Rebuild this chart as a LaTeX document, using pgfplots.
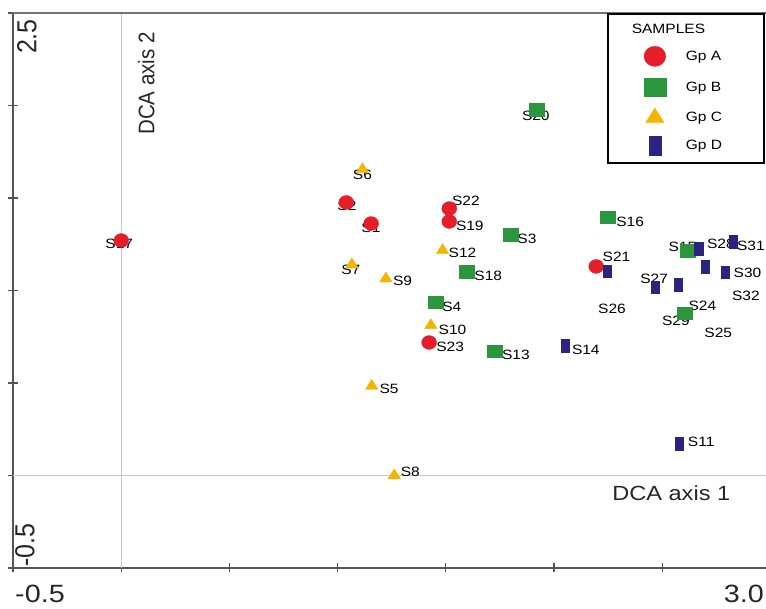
\documentclass[border=0pt]{standalone}
\usepackage{graphicx}
\usepackage{fontspec}
\setmainfont{Liberation Sans}
\usepackage{pgfplots}
\pgfplotsset{compat=1.18}

\definecolor{cA}{RGB}{230,30,42}
\definecolor{cB}{RGB}{44,150,62}
\definecolor{cC}{RGB}{245,180,0}
\definecolor{cD}{RGB}{42,36,128}
\definecolor{axgray}{RGB}{85,85,85}

% sample scores on the first two DCA axes
\pgfplotstableread{
x      y
0.000  1.270
1.040  1.476
1.155  1.362
1.516  1.443
1.516  1.373
1.423  0.719
2.195  1.130
}\grpA
\pgfplotstableread{
x      y
1.918  1.978
1.798  1.303
1.597  1.103
1.451  0.937
1.727  0.672
2.249  1.396
2.617  1.216
2.606  0.877
}\grpB
\pgfplotstableread{
x      y
1.115  1.655
1.066  1.140
1.223  1.064
1.485  1.217
1.431  0.812
1.158  0.484
1.262  0.000
}\grpC
\pgfplotstableread{
x      y
2.244  1.104
2.466  1.018
2.575  1.031
2.668  1.225
2.697  1.130
2.790  1.099
2.828  1.266
2.579  0.171
2.052  0.703
}\grpD

\newcommand{\wide}[1]{\scalebox{1.15}[1]{#1}}
\newcommand{\tall}[1]{\rotatebox{90}{\scalebox{1}[1.1]{#1}}}

\tikzset{
  lab/.style={font=\fontsize{13.5}{13.5}\selectfont, inner sep=0pt, anchor=center, text=black},
  big/.style={font=\fontsize{25}{25}\selectfont, inner sep=0pt, text=black!85},
  axname/.style={font=\fontsize{20.5}{20.5}\selectfont, inner sep=0pt, text=black!85},
}

\begin{document}
\begin{tikzpicture}
\begin{axis}[
  scale only axis,
  width=757.4pt, height=555pt,
  xmin=-0.5, xmax=3.0, ymin=-0.5, ymax=2.5,
  axis x line=bottom, axis y line=left,
  axis line style={-, line width=1.6pt, color=axgray},
  xtick={-0.5,0,0.5,1,1.5,2,2.5,3},
  ytick={-0.5,0,0.5,1,1.5,2,2.5},
  xticklabel=\empty, yticklabel=\empty,
  tick align=center, major tick length=9pt,
  tick style={line width=1.3pt, color=axgray},
  clip=false,
  legend style={
    at={(axis cs:2.246,2.5)}, anchor=north west,
    draw=black, line width=1.6pt, fill=white,
    font=\fontsize{13.5}{13.5}\selectfont,
    inner xsep=36pt, inner ysep=8pt,
    row sep=11.5pt, column sep=18pt,
    cells={anchor=west},
  },
  legend image post style={line width=0.3pt, /tikz/every mark/.append style={scale=1.45}},
]
% reference lines through the origin and the top border
\draw[black!22, line width=0.9pt] (axis cs:0,-0.5) -- (axis cs:0,2.5);
\draw[black!22, line width=0.9pt] (axis cs:-0.5,0) -- (axis cs:3,0);
\draw[black!55, line width=1.2pt] (axis cs:-0.5,2.5) -- (axis cs:3,2.5);

\addlegendimage{empty legend}
\addlegendentry{\hspace{-54pt}\raisebox{-2pt}{\wide{SAMPLES}}}

\addplot[cA, only marks, mark=*, mark size=7.5pt, line width=0.3pt,
  mark options={fill=cA, draw=cA, yscale=0.93}] table {\grpA};
\addlegendentry{\makebox[40pt][l]{\wide{Gp A}}}
\addplot[cB, only marks, mark=square*, mark size=7.5pt, line width=0.3pt,
  mark options={fill=cB, draw=cB, yscale=0.85}] table {\grpB};
\addlegendentry{\makebox[40pt][l]{\wide{Gp B}}}
\addplot[cC, only marks, mark=triangle*, mark size=7.3pt, line width=0.3pt,
  mark options={fill=cC, draw=cC, yscale=0.92}] table {\grpC};
\addlegendentry{\makebox[40pt][l]{\wide{Gp C}}}
\addplot[cD, only marks, mark=square*, mark size=7.5pt, line width=0.3pt,
  mark options={fill=cD, draw=cD, xscale=0.55, yscale=0.85}] table {\grpD};
\addlegendentry{\makebox[40pt][l]{\wide{Gp D}}}

% sample names
\node[lab] at (axis cs:-0.009,1.254) {\wide{S17}};
\node[lab] at (axis cs:1.043,1.456) {\wide{S2}};
\node[lab] at (axis cs:1.154,1.337) {\wide{S1}};
\node[lab] at (axis cs:1.115,1.627) {\wide{S6}};
\node[lab] at (axis cs:1.061,1.112) {\wide{S7}};
\node[lab] at (axis cs:1.300,1.050) {\wide{S9}};
\node[lab] at (axis cs:1.593,1.483) {\wide{S22}};
\node[lab] at (axis cs:1.611,1.351) {\wide{S19}};
\node[lab] at (axis cs:1.577,1.204) {\wide{S12}};
\node[lab] at (axis cs:1.696,1.081) {\wide{S18}};
\node[lab] at (axis cs:1.875,1.279) {\wide{S3}};
\node[lab] at (axis cs:1.916,1.946) {\wide{S20}};
\node[lab] at (axis cs:1.528,0.910) {\wide{S4}};
\node[lab] at (axis cs:1.531,0.788) {\wide{S10}};
\node[lab] at (axis cs:1.520,0.693) {\wide{S23}};
\node[lab] at (axis cs:1.824,0.654) {\wide{S13}};
\node[lab] at (axis cs:2.147,0.679) {\wide{S14}};
\node[lab] at (axis cs:1.238,0.468) {\wide{S5}};
\node[lab] at (axis cs:1.336,0.018) {\wide{S8}};
\node[lab] at (axis cs:2.680,0.180) {\wide{S11}};
\node[lab] at (axis cs:2.352,1.373) {\wide{S16}};
\node[lab] at (axis cs:2.289,1.184) {\wide{S21}};
\node[lab] at (axis cs:2.594,1.238) {\wide{S15}};
\node[lab] at (axis cs:2.771,1.253) {\wide{S28}};
\node[lab] at (axis cs:2.910,1.243) {\wide{S31}};
\node[lab] at (axis cs:2.894,1.094) {\wide{S30}};
\node[lab] at (axis cs:2.887,0.973) {\wide{S32}};
\node[lab] at (axis cs:2.463,1.063) {\wide{S27}};
\node[lab] at (axis cs:2.268,0.901) {\wide{S26}};
\node[lab] at (axis cs:2.686,0.919) {\wide{S24}};
\node[lab] at (axis cs:2.563,0.838) {\wide{S29}};
\node[lab] at (axis cs:2.759,0.769) {\wide{S25}};

% axis names
\node[axname] at (axis cs:0.1155,2.119) {\tall{DCA axis 2}};
\node[axname] at (axis cs:2.542,-0.097) {\wide{DCA axis 1}};

% end values of the axes
\node[big, anchor=north west] at ([xshift=2pt, yshift=-17pt]rel axis cs:0,0) {\wide{-0.5}};
\node[big, anchor=north east] at ([xshift=751pt, yshift=-17pt]rel axis cs:0,0) {\wide{3.0}};
\node[big, anchor=north west] at ([xshift=4pt, yshift=-6pt]rel axis cs:0,1) {\tall{2.5}};
\node[big, anchor=south west] at ([xshift=2pt, yshift=1pt]rel axis cs:0,0) {\tall{-0.5}};
\end{axis}
\pgfresetboundingbox
\path[use as bounding box] (-13pt,-41pt) rectangle (753pt,568pt);
\end{tikzpicture}
\end{document}
